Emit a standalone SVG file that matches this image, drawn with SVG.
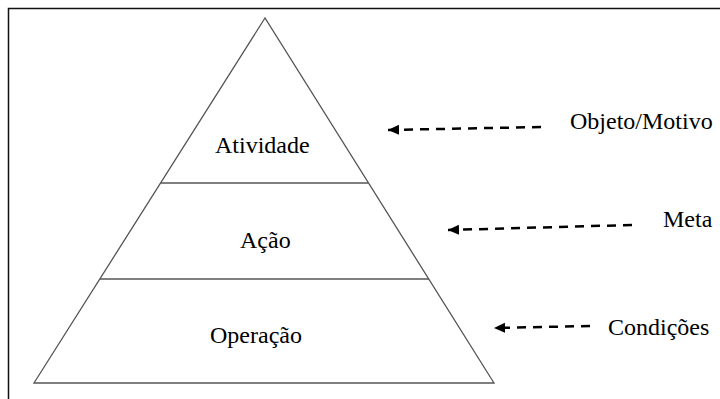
<svg xmlns="http://www.w3.org/2000/svg" width="720" height="399" viewBox="0 0 720 399">
<style>
.t{font-family:'Liberation Serif','DejaVu Serif','Times New Roman',serif;font-size:24px;fill:#000}
.d{stroke:#000;stroke-width:2.5;stroke-dasharray:9,7;fill:none}
.s{stroke:#555;stroke-width:1.3;fill:none}
</style>
<defs>
<marker id="ah" markerWidth="12" markerHeight="12" refX="11" refY="6" orient="auto" markerUnits="userSpaceOnUse">
<path d="M0,1 L11,6 L0,11 Z" fill="#000"/>
</marker>
</defs>
<rect x="0" y="0" width="720" height="399" fill="#fff"/>
<rect x="8.5" y="8.5" width="720" height="400" fill="none" stroke="#111" stroke-width="1.5"/>
<g id="pyramid">
<polygon points="265,18 34,383 494,383" fill="#fff" stroke="#555" stroke-width="1.3"/>
</g>
<g id="atividade">
<line class="s" x1="161" y1="183" x2="368" y2="183"/>
<text class="t" font-family="Liberation Serif, serif" x="215" y="153">Atividade</text>
</g>
<g id="acao">
<line class="s" x1="100" y1="279" x2="429" y2="279"/>
<text class="t" font-family="Liberation Serif, serif" x="240" y="248">Ação</text>
</g>
<g id="operacao">
<text class="t" font-family="Liberation Serif, serif" x="210" y="343">Operação</text>
</g>
<g id="connectors">
<line class="d" x1="541" y1="127" x2="388" y2="130" marker-end="url(#ah)"/>
<line class="d" x1="632" y1="225" x2="448" y2="230" marker-end="url(#ah)"/>
<line class="d" x1="590" y1="326" x2="494" y2="328" marker-end="url(#ah)"/>
</g>
<g id="labels">
<text class="t" font-family="Liberation Serif, serif" x="570" y="129">Objeto/Motivo</text>
<text class="t" font-family="Liberation Serif, serif" x="663" y="227">Meta</text>
<text class="t" font-family="Liberation Serif, serif" x="608" y="335">Condições</text>
</g>
</svg>
